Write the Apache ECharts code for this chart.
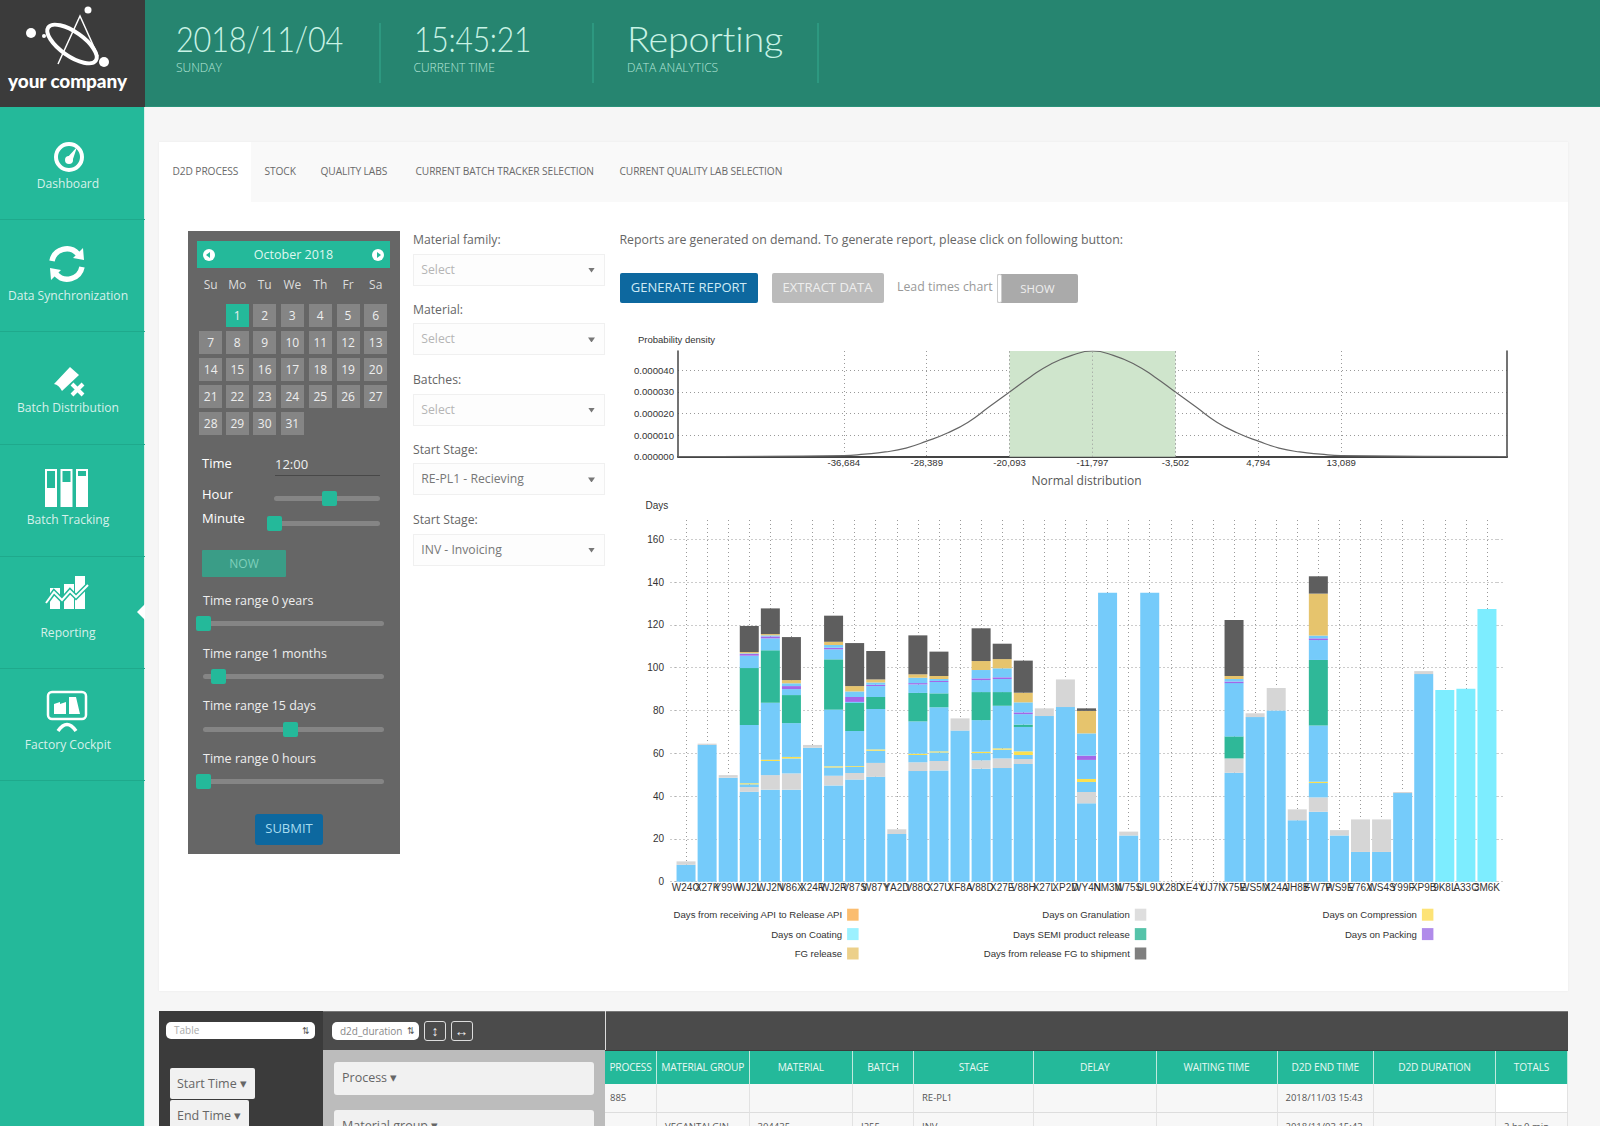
<!DOCTYPE html>
<html><head><meta charset="utf-8"><title>Reporting</title>
<script src="https://cdn.jsdelivr.net/npm/echarts@6/dist/echarts.min.js"></script>
<style>
html,body{margin:0;padding:0;width:1600px;height:1126px;overflow:hidden;background:#f6f6f6;font-family:"Open Sans",sans-serif;color:#666}
.a{position:absolute;white-space:nowrap;box-sizing:border-box}
#chart{position:absolute;left:620px;top:320px;width:900px;height:660px}
</style></head><body>
<div id="page"></div><div id="chart"></div>
<script>
const _ = null;
// stacked bar chart values, in days, bottom of the stack first
const categories = ['W24O','X27K','Y99W','WJ2L','WJ2N','V86X','X24R','WJ2R','V87S','W87Y','YA2D','V88C','X27U','XF8A','V88D','X27E','V88H','X27L','XP2D','WY4N','NM3N','W75S','UL9U','X28D','XE4Y','UJ7N','X75E','WS5M','X24A','JH8B','FW7P','WS9E','V76X','WS4S','Y99F','XP9B','9K8L','A33C','3M6K'];
const waitA = [7.9,63.9,48.6,42,43,43,62.6,45,47.7,49,22.3,51.7,52,70.6,52.8,53.1,55,77.4,81.6,36.6,135,21.6,135,_,_,_,50.9,76.9,80,28.7,32.7,21.6,13.9,13.9,41.4,97,_,_,_];
const granulation = [1.6,.6,1.2,2.2,6.8,7.6,1.3,4.5,3.1,6.5,2.2,4.1,4.4,5.7,3.9,4.5,2.3,3.6,12.9,5.3,_,1.8,_,_,_,_,6.7,1.8,10.5,5.1,6.7,2.5,15.2,15.2,.5,1.4,_,_,_];
const waitB = [_,_,_,1.3,6.6,7,_,3.9,2.8,5.7,_,3.4,4,_,3.4,4.1,1.9,_,_,4.7,_,_,_,_,_,_,_,_,_,_,6.7,_,_,_,_,_,_,_,_];
const compression = [_,_,_,.5,.6,.7,_,.5,.4,.6,_,.6,.5,_,.6,.6,1.7,_,_,1.4,_,_,_,_,_,_,_,_,_,_,.6,_,_,_,_,_,_,_,_];
const waitC = [_,_,_,27.2,26.6,15.8,_,26.5,16.4,18.9,_,15.1,20.6,_,14.8,19.9,11.4,_,_,8.9,_,_,_,_,_,_,_,_,_,_,26.3,_,_,_,_,_,_,_,_];
const semiRelease = [_,_,_,26.6,24.5,13.1,_,23.5,13.1,5.6,_,13.3,6.5,_,13.1,6.4,1.1,_,_,_,_,_,_,_,_,_,10.3,_,_,_,30.6,_,_,_,_,_,_,_,_];
const waitD = [_,_,_,5.8,5.6,2.8,_,4.7,.5,5.1,_,4,5.3,_,5.6,6.1,4.9,_,_,_,_,_,_,_,_,_,24.9,_,_,_,9.3,_,_,_,_,_,_,_,_];
const packing = [_,_,_,.8,.9,1.4,_,.7,2.3,.6,_,.6,.5,_,.8,.8,.8,_,_,2,_,_,_,_,_,_,.7,_,_,_,.8,_,_,_,_,_,_,_,_];
const waitE = [_,_,_,.3,.5,1.3,_,1.3,2.6,1.1,_,2.5,.9,_,3.9,4.2,4.7,_,_,10.4,_,_,_,_,_,_,1.2,_,_,_,1.3,_,_,_,_,_,_,_,_];
const fgRelease = [_,_,_,.6,.6,1.5,_,1.5,2.5,1.4,_,1.6,1.4,_,4.2,4.3,4.5,_,_,10.5,_,_,_,_,_,_,1.4,_,_,_,19.6,_,_,_,_,_,_,_,_];
const shipment = [_,_,_,12.2,12,20.1,_,12.2,20.1,13.3,_,18.2,11.4,_,15.3,7.2,15,_,_,1.2,_,_,_,_,_,_,26.2,_,_,_,8.1,_,_,_,_,_,_,_,_];
const coating = [_,_,_,_,_,_,_,_,_,_,_,_,_,_,_,_,_,_,_,_,_,_,_,_,_,_,_,_,_,_,_,_,_,_,_,_,89.6,90.2,127.4];
const apiRelease = categories.map(() => null);
const dayTicks = [0,20,40,60,80,100,120,140,160];
// normal distribution curve
const curveX = [-53277,-36684,-34610,-32536,-30463,-28389,-26315,-24241,-22167,-20093,-18019,-15945,-13871,-11797,-9723,-7650,-5576,-3502,-1428,646,2720,4794,6868,8942,11016,13089,29683];
const curveY = [0,.0000005,.0000012,.0000022,.000004,.0000072,.000011,.000016,.000023,.00003,.000037,.000043,.000047,.000049,.000047,.000043,.000037,.00003,.000023,.000016,.000011,.0000072,.000004,.0000022,.0000012,.0000005,0];
const normalTicks = [-36684,-28389,-20093,-11797,-3502,4794,13089];
const densityTicks = [0,.00001,.00002,.00003,.00004];
const bandEdges = [-20093,-3502];
const legendColumns = [
  ['Days from receiving API to Release API','Days on Coating','FG release'],
  ['Days on Granulation','Days SEMI product release','Days from release FG to shipment'],
  ['Days on Compression','Days on Packing']];
// page text
const navItems = ['Dashboard','Data Synchronization','Batch Distribution','Batch Tracking','Reporting','Factory Cockpit'];
const tabs = ['D2D PROCESS','STOCK','QUALITY LABS','CURRENT BATCH TRACKER SELECTION','CURRENT QUALITY LAB SELECTION'];
const weekDays = ['Su','Mo','Tu','We','Th','Fr','Sa'];
const rangeLabels = ['Time range 0 years','Time range 1 months','Time range 15 days','Time range 0 hours'];
const formLabels = ['Material family:','Material:','Batches:','Start Stage:','Start Stage:'];
const formValues = ['Select','Select','Select','RE-PL1 - Recieving','INV - Invoicing'];
const tableHeads = ['PROCESS','MATERIAL GROUP','MATERIAL','BATCH','STAGE','DELAY','WAITING TIME','D2D END TIME','D2D DURATION','TOTALS'];
const tableRow1 = ['885','','','','RE-PL1','','','2018/11/03 15:43','',''];
const tableRow2 = ['','VEGANTALGIN','304435','I255','INV','','','2018/11/03 15:43','','2 hr 0 min'];

const page = document.getElementById('page');
function box(x,y,w,h,css,text){
  const d=document.createElement('div');d.className='a';
  d.style.cssText=`left:${x}px;top:${y}px;width:${w}px;height:${h}px;${css||''}`;
  if(text!==undefined)d.textContent=text;page.appendChild(d);return d;
}
function txt(x,yc,text,css){ return box(x,yc-12,400,24,`line-height:24px;${css||''}`,text); }
function ctr(xc,yc,text,css,w){w=w||200;
  return box(xc-w/2,yc-12,w,24,`line-height:24px;text-align:center;${css||''}`,text);
}
function svg(x,y,w,h,vb,inner){const d=box(x,y,w,h);d.innerHTML=`<svg width="${w}" height="${h}" viewBox="${vb}" xmlns="http://www.w3.org/2000/svg">${inner}</svg>`;}

// header
box(0,0,1600,107,'background:#268570;border-bottom:1px solid #2a9279');
box(0,0,145,107,'background:#3b3b3b');
svg(22,4,100,72,'0 0 100 72',`<g fill="none" stroke="#fff"><ellipse cx="50" cy="40" rx="29" ry="12" transform="rotate(35 50 40)" stroke-width="4"/><path d="M36 60 L58 12 L76 52" stroke-width="1.5"/></g><g fill="#fff"><circle cx="9" cy="29" r="5"/><circle cx="66" cy="6" r="3.5"/><circle cx="82" cy="58" r="5"/><circle cx="22" cy="32" r="2"/></g>`);
ctr(67.500,81,'your company','font-family:Lato,sans-serif;font-weight:900;font-size:19px;color:#fff;letter-spacing:-.1px');
[[176,'2018/11/04','SUNDAY',.876],[413.5,'15:45:21','CURRENT TIME',.856],[627,'Reporting','DATA ANALYTICS',1.078]].forEach(h=>{
  txt(h[0],37.500,h[1],`font-family:Lato,sans-serif;font-weight:300;font-size:35px;color:#c9f3e6;letter-spacing:-.2px;transform-origin:0 50%;transform:scaleX(${h[3]})`);
  txt(h[0],68,h[2],'font-family:"Open Sans",sans-serif;font-weight:300;font-size:12px;color:#b5e6d8');
});
[379,592,817].forEach(x=>box(x,23,2,60,'background:#2d9880'));

// sidebar
box(0,107,145,1019,'background:#24b99a;border-right:1px solid #d9efe9');
[219,331,444,556,668,780].forEach(y=>box(0,y,145,1,'background:#1fa98c'));
navItems.forEach((t,i)=>ctr(68,[184,296,408,520,633,745][i],t,'font-size:12.1px;color:rgba(255,255,255,.82)',145));
svg(52,140,34,34,'0 0 34 34','<circle cx="17" cy="17" r="13" fill="none" stroke="#fff" stroke-width="4"/><path d="M14 19 L25 7 L20 22 Z" fill="#fff"/><circle cx="17" cy="20" r="4" fill="#fff"/>');
svg(47,244,40,40,'0 0 40 40','<g fill="none" stroke="#fff" stroke-width="5.5"><path d="M5 17 A15 15 0 0 1 31 10"/><path d="M35 23 A15 15 0 0 1 9 30"/></g><path d="M26 14 L36 4 L37 16 Z M14 26 L4 36 L3 24 Z" fill="#fff"/>');
svg(52,364,34,34,'0 0 34 34','<path d="M2 20 L18 3 L27 11 L10 27 Q7 21 2 20 Z" fill="#fff"/><path d="M20 20 L31 31 M31 20 L20 31" stroke="#fff" stroke-width="4"/>');
svg(45,469,44,38,'0 0 44 38','<g fill="#fff"><rect x="0" y="0" width="12" height="38"/><rect x="15.500" y="0" width="12" height="38"/><rect x="31" y="0" width="12" height="38"/></g><g fill="#24b99a"><rect x="2" y="2" width="8" height="17"/><rect x="17.500" y="2" width="8" height="11"/><rect x="33" y="2" width="8" height="5"/></g>');
svg(45,576,44,34,'0 0 44 34','<g fill="#fff"><rect x="5" y="12" width="10" height="21"/><rect x="19" y="8" width="10" height="25"/><rect x="30" y="0" width="10" height="33"/></g><path d="M1 27 L9 16 L17 24 L25 15 L31 21 L43 9" fill="none" stroke="#24b99a" stroke-width="5"/><path d="M1 27 L9 16 L17 24 L25 15 L31 21 L43 9" fill="none" stroke="#fff" stroke-width="2"/>');
svg(46,690,42,42,'0 0 42 42','<rect x="2" y="2" width="38" height="27" rx="4" fill="none" stroke="#fff" stroke-width="2.500"/><path d="M8 24 V14 L14 12 V14 L20 12 V24 Z M23 24 V7 H30 L34 24 Z" fill="#fff"/><path d="M12 41 Q21 28 30 41" fill="none" stroke="#fff" stroke-width="3.500"/>');
box(137,604,8,16,'background:#fff;clip-path:polygon(100% 0,0 50%,100% 100%)');

// main card
box(159,142,1409,849,'background:#fff;box-shadow:0 0 2px rgba(0,0,0,.06)');
box(159,142,1409,60,'background:#f9f9f9');
box(159,142,92,60,'background:#fff');
[172.5,264.5,320.5,415.5,619.5].forEach((x,i)=>txt(x,171,tabs[i],'font-size:10.2px;color:#6a6a6a;letter-spacing:-.1px'));

// calendar panel
box(188,231,212,623,'background:#666');
box(197,241,193,27,'background:#24b99a');
ctr(293.5,255,'October 2018','font-size:12.5px;color:#dff7ef');
[209,378].forEach((x,i)=>{box(x-6,249,12,12,'background:#fff;border-radius:50%');
  box(x-(i?1:3),252,4,6,`background:#24b99a;clip-path:polygon(${i?'0 0,100% 50%,0 100%':'100% 0,0 50%,100% 100%'})`);});
const dayX=[210.7,237.3,264.7,292.3,320.3,348,375.7], dayY=[315.6,342.6,369.5,396.5,423.5];
weekDays.forEach((d,i)=>ctr(dayX[i],285,d,'font-size:12px;color:#ddd',30));
for(let n=1;n<=31;n++){const ix=n%7,iy=Math.floor(n/7);
  box(dayX[ix]-11.5,dayY[iy]-11.5,23,23,`background:${n===1?'#24b99a':'#858585'};color:#eee;font-size:12px;line-height:23px;text-align:center`,String(n));}
txt(202,463,'Time','font-size:13px;color:#fff');
txt(275,464,'12:00','font-size:13px;color:#eee');
box(275,475,105,1,'background:#484848');
txt(202,494,'Hour','font-size:13px;color:#fff');
txt(202,518,'Minute','font-size:13px;color:#fff');
function slider(x0,x1,y,th){box(x0,y-2.500,x1-x0,5,'background:#858585;border-radius:3px');box(th-7.500,y-7.500,15,15,'background:#24b99a;border-radius:2px');}
slider(274,380,498.5,329.7);slider(274,380,523,274);
box(202,550,84,27,'background:#3a9d87;border-radius:1px;color:#7fd0bb;font-size:12px;line-height:27px;text-align:center','NOW');
[[600.5,623.8,203],[653.6,676.4,218.3],[706,729,290.7],[759,781.7,203]].forEach((r,i)=>{
  txt(203,r[0],rangeLabels[i],'font-size:12.5px;color:#eee');slider(203,384,r[1],r[2]);});
box(255,813.5,68,31,'background:#0d689f;border-radius:3px;color:#a7dcf0;font-size:13px;line-height:29px;text-align:center','SUBMIT');

// form column
[[239.500,253.6],[309.5,323.4],[379.5,393.6],[449.500,463.4],[519.500,533.6]].forEach((f,i)=>{
  txt(413,f[0],formLabels[i],'font-size:12.2px;color:#666');
  box(413,f[1],191.500,32,'background:#fdfdfd;border:1px solid #f0f0f0');
  txt(421.3,f[1]+16,formValues[i],`font-size:12.2px;color:${i<3?'#b5b5b5':'#777'}`);
  box(588,f[1]+14,7,5,'background:#777;clip-path:polygon(0 0,100% 0,50% 100%)');
});

// report controls
txt(619.5,239.500,'Reports are generated on demand. To generate report, please click on following button:','font-size:12.35px;color:#666');
box(619.5,272.5,138.500,30.500,'background:#0d689f;border-radius:2px;color:#cfeaf5;font-size:13px;line-height:29px;text-align:center','GENERATE REPORT');
box(771.5,272.5,112,30.500,'background:#bbb;border-radius:2px;color:#eee;font-size:13px;line-height:29px;text-align:center','EXTRACT DATA');
txt(897,286.500,'Lead times chart','font-size:12.35px;color:#999');
box(997,273.5,81,29,'background:#aaa;border-radius:2px;color:#eee;font-size:11.500px;line-height:30px;text-align:center','SHOW');
box(997,273.5,5,29,'background:#fff;border:1px solid #ccc;border-radius:2px');

// lower pivot panel
box(159,1011,1409,115,'background:#3b3b3b');
box(323,1011,1245,39,'background:#4b4b4b;border-top:1px solid #777');
box(605,1011,1,39,'background:#ddd');
box(323,1050,282,76,'background:#bcbcbc');
box(166,1022,149,17,'background:#fff;border-radius:5px;color:#aaa;font-size:10px;line-height:17px;padding-left:8px','Table');
box(332,1022,87,18,'background:#fff;border-radius:5px;color:#888;font-size:10px;line-height:18px;padding-left:8px','d2d_duration');
[306,411].forEach(x=>ctr(x,1030.500,'⇅','font-size:9px;color:#555',12));
box(424,1021,22,20,'border:1px solid #ddd;border-radius:3px;color:#eee;font-size:14px;line-height:17px;text-align:center','↕');
box(450.500,1021,22,20,'border:1px solid #ddd;border-radius:3px;color:#eee;font-size:14px;line-height:17px;text-align:center','↔');
box(170,1067.7,84.500,31,'background:#f1f1f1;border-radius:2px;color:#666;font-size:12.5px;line-height:31px;padding-left:7px','Start Time ▾');
box(170,1100,79,31,'background:#f1f1f1;border-radius:2px;color:#666;font-size:12.5px;line-height:31px;padding-left:7px','End Time ▾');
box(334,1062,260,33,'background:#f1f1f1;border-radius:3px;color:#666;font-size:12.5px;line-height:31px;padding-left:8px','Process ▾');
box(334,1110,260,33,'background:#f1f1f1;border-radius:3px;color:#666;font-size:12.5px;line-height:31px;padding-left:8px','Material group ▾');
const colX=[605,657,749.5,853,914,1034,1156.5,1277.5,1374,1496,1568];
tableHeads.forEach((h,i)=>{
  box(colX[i],1051,colX[i+1]-colX[i],33,'background:#24b99a;color:#e8f8f3;font-size:10.2px;letter-spacing:-.2px;line-height:33px;text-align:center;border-right:1px solid #bfe9dd',h);
  box(colX[i],1084,colX[i+1]-colX[i],29,`background:${i===9?'#fff':'#f7f7f7'};border-right:1px solid #e2e2e2;border-bottom:1px solid #ddd;color:#555;font-size:9.5px;line-height:28px;padding-left:${i===0?5:8}px`,tableRow1[i]);
  box(colX[i],1113,colX[i+1]-colX[i],29,`background:#f7f7f7;border-right:1px solid #e2e2e2;color:#555;font-size:9.5px;line-height:28px;padding-left:8px`,tableRow2[i]);
});

// charts
const chart = echarts.init(document.getElementById('chart'),null,{renderer:'svg'});
const chartFont='"Liberation Sans",Arial,sans-serif';
const dots={type:[1,3],color:'#999',width:1};
function stack(name,data,color){
  return {name,type:'bar',stack:'days',xAxisIndex:1,yAxisIndex:2,data,barWidth:19,
    itemStyle:{color},emphasis:{disabled:true}};
}
const blue='#75cbfa';
const legendTint={'Days from receiving API to Release API':'#fbbd6f','Days on Coating':'#9cf1ff','FG release':'#ecd08a','Days on Granulation':'#dedede','Days SEMI product release':'#55c3a9','Days from release FG to shipment':'#7f7f7f','Days on Compression':'#fde376','Days on Packing':'#b08bea'};
chart.setOption({
  animation:false,
  textStyle:{fontFamily:chartFont},
  grid:[
    {left:58,top:31,width:829,height:105.7,containLabel:false},
    {left:55.5,top:200,width:822,height:361.7,containLabel:false}
  ],
  xAxis:[
    {type:'value',gridIndex:0,min:-53277,max:29683,
     axisLine:{show:true,onZero:false,lineStyle:{color:'#444',width:2}},axisTick:{show:false,customValues:normalTicks},
     axisLabel:{customValues:normalTicks,fontSize:9.6,color:'#333',margin:1},
     splitLine:{show:true,lineStyle:dots},
     name:'Normal distribution',nameLocation:'center',nameGap:18,
     nameTextStyle:{fontFamily:'"Open Sans",sans-serif',fontSize:12,color:'#555',padding:[0,12,0,0]}},
    {type:'category',gridIndex:1,data:categories,
     axisLine:{show:false},axisTick:{show:false,alignWithLabel:true},
     axisLabel:{interval:0,hideOverlap:false,fontSize:10,color:'#333',margin:1},
     splitLine:{show:true,interval:0,alignWithLabel:true,lineStyle:dots}}
  ],
  yAxis:[
    {type:'value',gridIndex:0,min:0,max:.000049,
     axisLine:{show:true,onZero:false,lineStyle:{color:'#444',width:1.5}},axisTick:{show:false,customValues:densityTicks},
     axisLabel:{customValues:densityTicks,fontSize:9.6,color:'#333',margin:4,formatter:v=>v.toFixed(6)},
     splitLine:{show:true,lineStyle:dots},
     name:'Probability density',nameLocation:'end',nameGap:7,
     nameTextStyle:{fontSize:9.5,color:'#333',align:'left',padding:[0,0,0,-40]}},
    {type:'value',gridIndex:0,position:'right',min:0,max:.000049,
     axisLine:{show:true,onZero:false,lineStyle:{color:'#444',width:1.5}},axisTick:{show:false},axisLabel:{show:false},splitLine:{show:false}},
    {type:'value',gridIndex:1,min:0,max:169,interval:20,
     axisLine:{show:false},axisTick:{show:true,length:8,customValues:dayTicks,lineStyle:dots},
     axisLabel:{customValues:dayTicks,fontSize:10,color:'#333',margin:11.5},
     splitLine:{show:true,lineStyle:dots},
     name:'Days',nameLocation:'end',nameGap:10,
     nameTextStyle:{fontSize:10,color:'#333',align:'left',padding:[0,0,0,-30]}},
    {type:'value',gridIndex:1,position:'right',min:0,max:169,interval:20,
     axisLine:{show:false},axisTick:{show:true,length:8,customValues:dayTicks,lineStyle:dots},
     axisLabel:{show:false},splitLine:{show:false}}
  ],
  legend:legendColumns.map((names,i)=>({
    orient:'vertical',align:'right',padding:0,itemGap:7.400,itemWidth:11.5,itemHeight:12,icon:'rect',
    right:[661.4,373.7,86.6][i],top:588.7,selectedMode:false,
    textStyle:{fontSize:9.6,color:'#333',fontFamily:chartFont},
    data:names.map(n=>({name:n,itemStyle:{color:legendTint[n]}}))
  })),
  series:[
    {name:'Normal distribution',type:'line',xAxisIndex:0,yAxisIndex:0,smooth:true,showSymbol:false,
     data:curveX.map((x,i)=>[x,curveY[i]]),lineStyle:{color:'#666',width:1.2},emphasis:{disabled:true},
     markArea:{silent:true,itemStyle:{color:'#cfe5cc'},data:[[{xAxis:bandEdges[0]},{xAxis:bandEdges[1]}]]},
     markLine:{silent:true,symbol:'none',label:{show:false},lineStyle:dots,data:[{xAxis:bandEdges[0]},{xAxis:normalTicks[3]},{xAxis:bandEdges[1]}]}},
    stack('Waiting before granulation',waitA,blue),
    stack('Days from receiving API to Release API',apiRelease,'#fbbd6f'),
    stack('Days on Granulation',granulation,'#d6d6d6'),
    stack('Waiting before compression',waitB,blue),
    stack('Days on Compression',compression,'#fbe04f'),
    stack('Waiting before semi release',waitC,blue),
    stack('Days SEMI product release',semiRelease,'#2fb898'),
    stack('Waiting before packing',waitD,blue),
    stack('Days on Packing',packing,'#a467e8'),
    stack('Waiting before FG release',waitE,blue),
    stack('FG release',fgRelease,'#e6c46d'),
    stack('Days from release FG to shipment',shipment,'#5e5e5e'),
    stack('Days on Coating',coating,'#7dedff')
  ]
});
</script>
</body></html>
